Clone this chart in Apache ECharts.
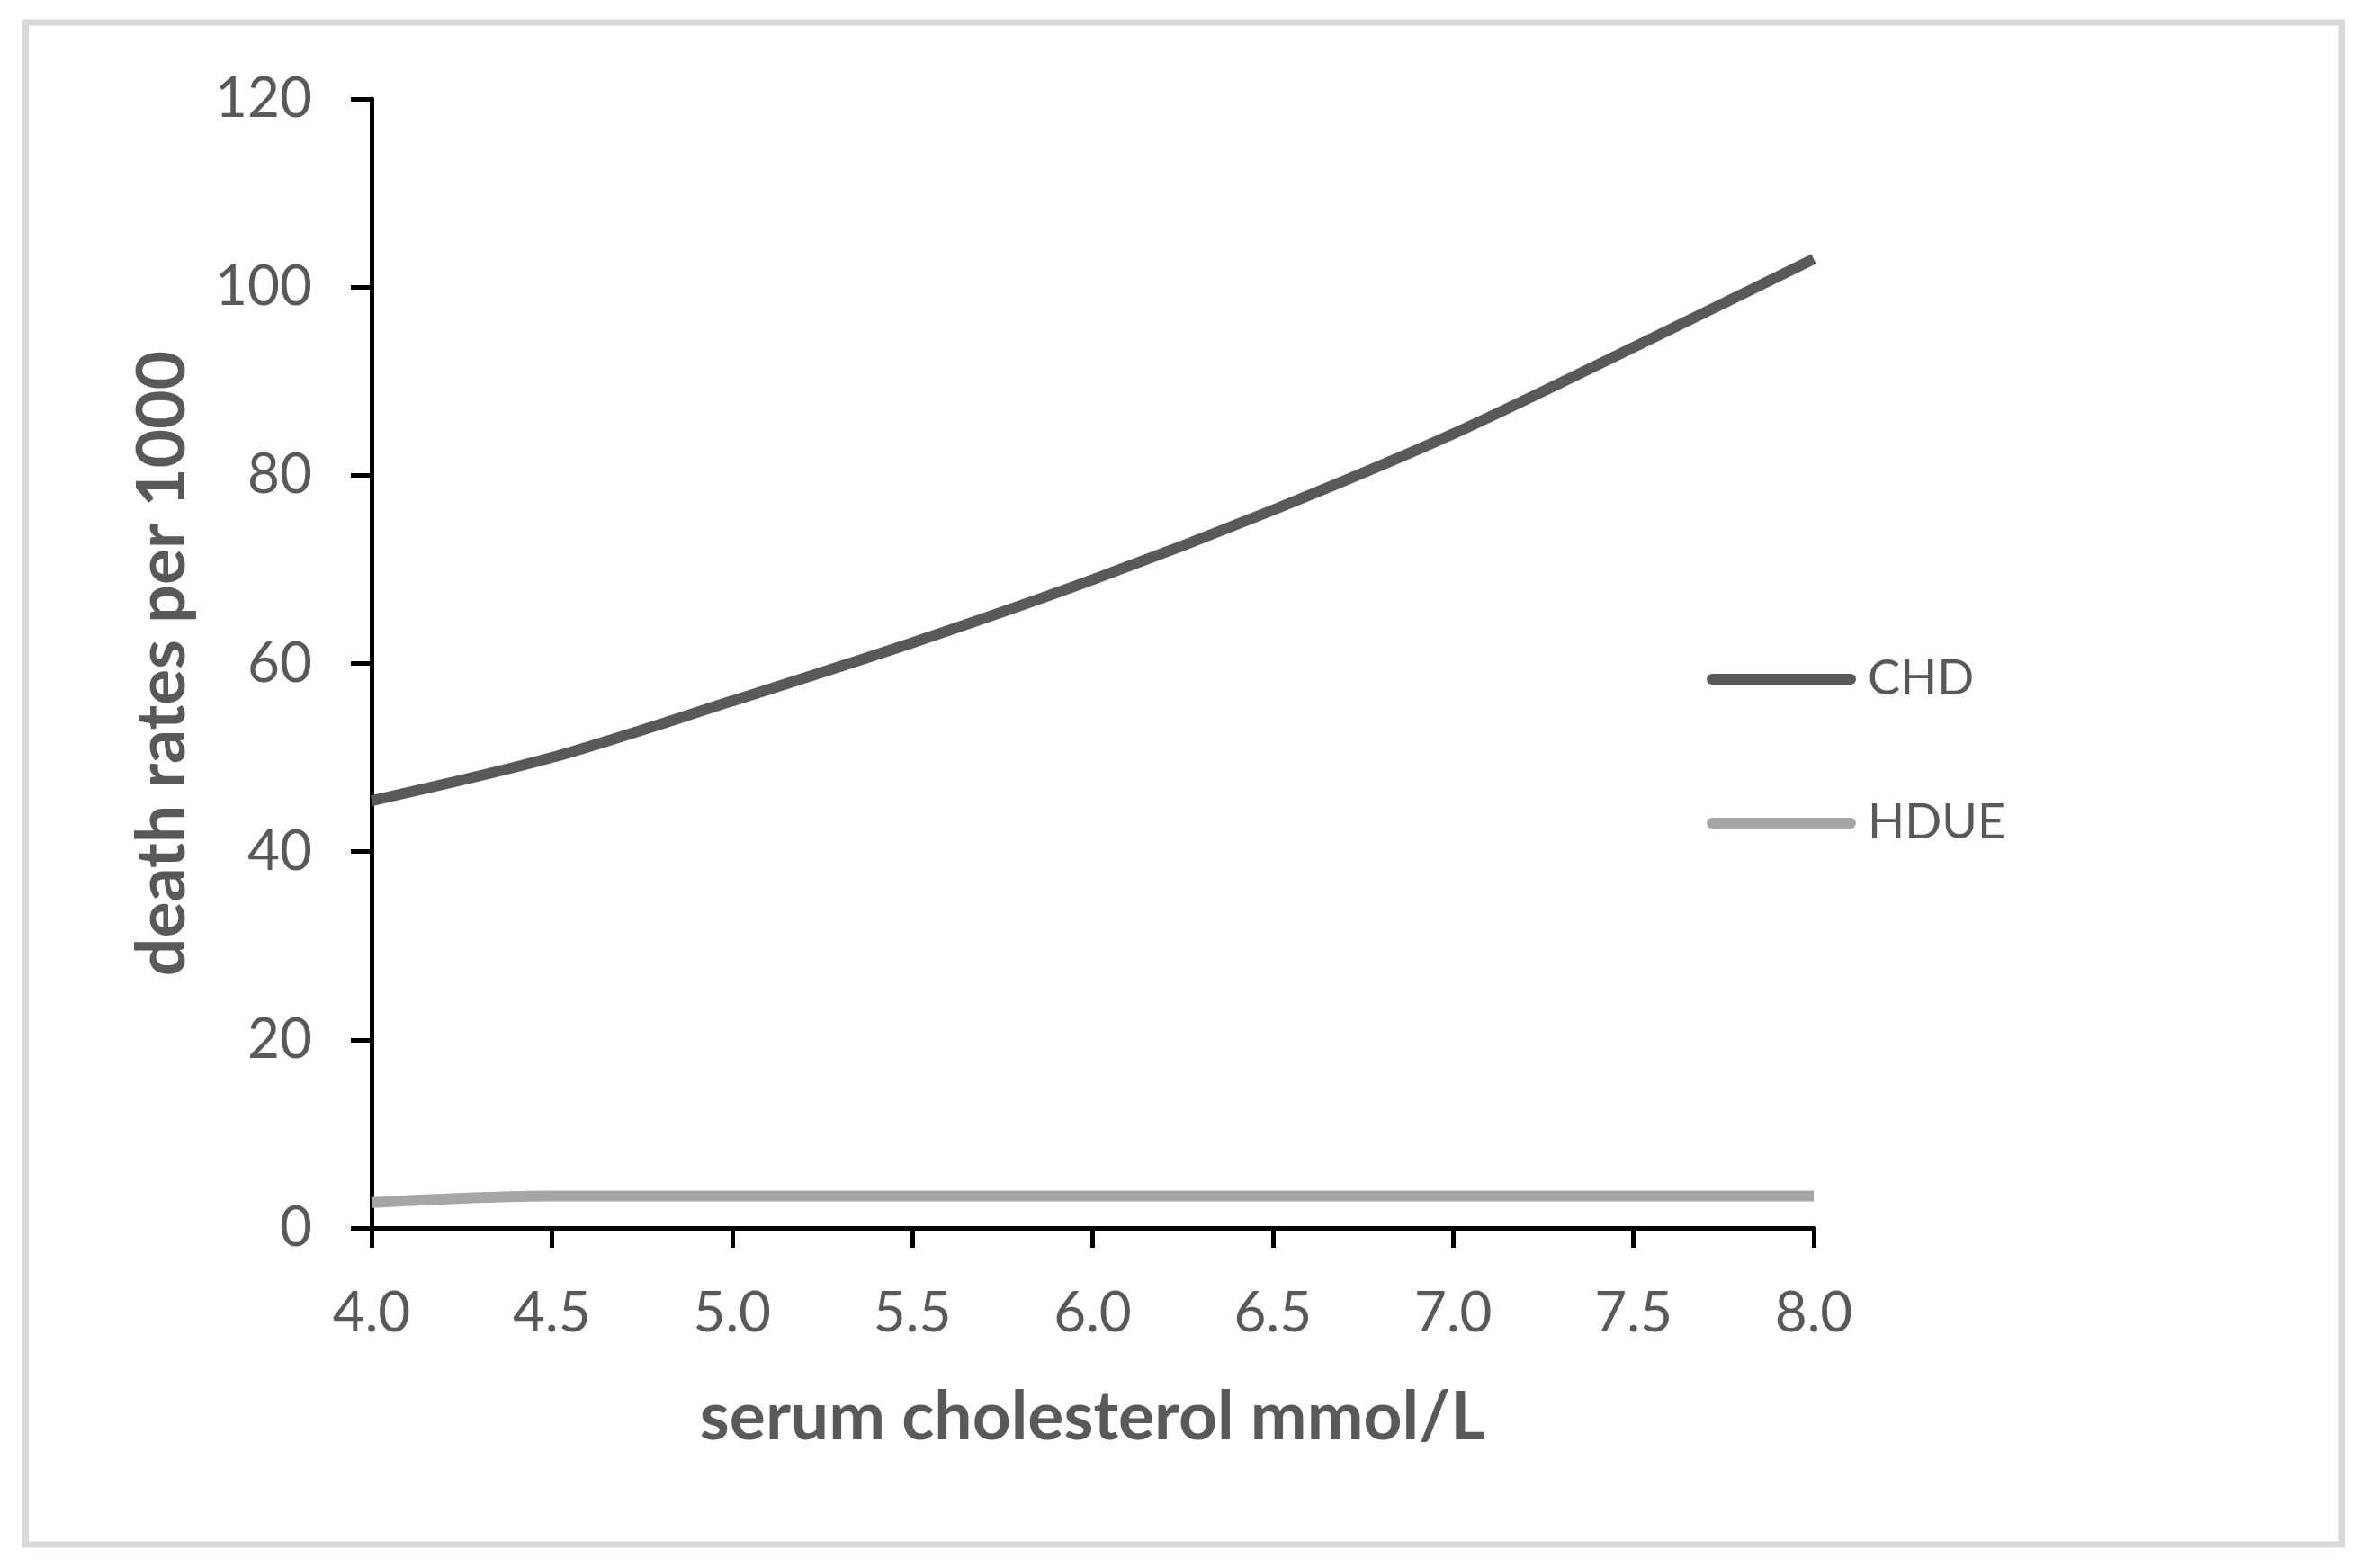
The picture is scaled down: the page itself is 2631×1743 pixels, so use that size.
<!DOCTYPE html>
<html>
<head>
<meta charset="utf-8">
<script src="https://cdn.jsdelivr.net/npm/echarts@6/dist/echarts.min.js"></script>
<style>
html,body{margin:0;padding:0;background:#fff;}
#chart{width:2631px;height:1743px;}
</style>
</head>
<body>
<div id="chart"></div>
<script>
// Data
const cholesterol = [4.0, 4.5, 5.0, 5.5, 6.0, 6.5, 7.0, 7.5, 8.0];
const chdRates = [45.4, 50.0, 56.0, 62.2, 68.9, 76.3, 84.4, 93.6, 103.0];
const hdueRates = [2.7, 3.4, 3.4, 3.4, 3.4, 3.4, 3.4, 3.4, 3.4];
const seriesNames = ['CHD', 'HDUE'];
const xTitle = 'serum cholesterol mmol/L';
const yTitle = 'death rates per 1000';

const textColor = '#595959';
const font = 'Lato';

const pairs = (xs, ys) => xs.map((x, i) => [x, ys[i]]);
const capsule = 'path://M6,0 H160 A6,6 0 0 1 160,12 H6 A6,6 0 0 1 6,0 Z';

const chart = echarts.init(document.getElementById('chart'));
chart.setOption({
  backgroundColor: '#ffffff',
  animation: false,
  textStyle: { fontFamily: font },
  grid: { left: 413, right: 615, top: 110, bottom: 378, containLabel: false },
  graphic: [{
    type: 'rect',
    shape: { x: 28.5, y: 25, width: 2574.5, height: 1692 },
    style: { fill: 'none', stroke: '#d9d9d9', lineWidth: 7 },
    silent: true, z: -1
  }],
  legend: {
    orient: 'vertical',
    left: 1897,
    top: 728,
    padding: 0,
    itemWidth: 166,
    itemHeight: 12,
    itemGap: 106,
    textStyle: { color: textColor, fontFamily: font, fontSize: 54, lineHeight: 54, padding: [0, 0, 0, 8] },
    data: [
      { name: seriesNames[0], icon: capsule, itemStyle: { color: '#595959' } },
      { name: seriesNames[1], icon: capsule, itemStyle: { color: '#a6a6a6' } }
    ]
  },
  xAxis: {
    type: 'value',
    min: 4, max: 8, interval: 0.5,
    name: xTitle,
    nameLocation: 'middle',
    nameGap: 173,
    nameTextStyle: { color: textColor, fontFamily: font, fontWeight: 'bold', fontSize: 75 },
    axisLine: { lineStyle: { color: '#000', width: 5 } },
    axisTick: { show: true, length: 22, lineStyle: { color: '#000', width: 5 } },
    axisLabel: { color: textColor, fontFamily: font, fontSize: 62, margin: 64,
      formatter: v => v.toFixed(1) },
    splitLine: { show: false }
  },
  yAxis: {
    type: 'value',
    min: 0, max: 120, interval: 20,
    name: yTitle,
    nameLocation: 'middle',
    nameGap: 195,
    nameRotate: 90,
    nameTextStyle: { color: textColor, fontFamily: font, fontWeight: 'bold', fontSize: 75 },
    axisLine: { show: true, lineStyle: { color: '#000', width: 5 } },
    axisTick: { show: true, length: 23, lineStyle: { color: '#000', width: 5 } },
    axisLabel: { color: textColor, fontFamily: font, fontSize: 62, margin: 66 },
    splitLine: { show: false }
  },
  series: [
    {
      name: seriesNames[0], type: 'line', smooth: 0.3, symbol: 'none',
      data: pairs(cholesterol, chdRates),
      lineStyle: { color: '#595959', width: 12, cap: 'butt' },
      itemStyle: { color: '#595959' }, z: 3
    },
    {
      name: seriesNames[1], type: 'line', smooth: 0.3, symbol: 'none',
      data: pairs(cholesterol, hdueRates),
      lineStyle: { color: '#a6a6a6', width: 12, cap: 'butt' },
      itemStyle: { color: '#a6a6a6' }, z: 2
    }
  ]
});
</script>
</body>
</html>
